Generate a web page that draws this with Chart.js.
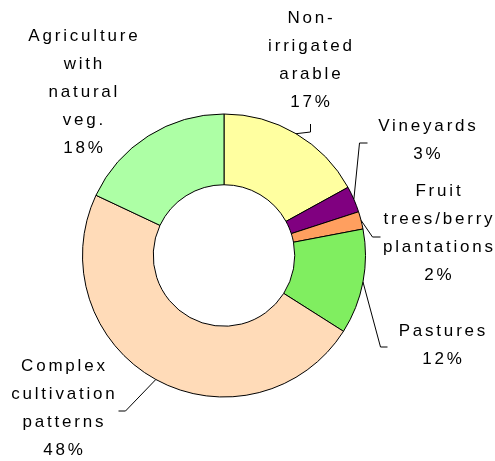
<!DOCTYPE html>
<html>
<head>
<meta charset="utf-8">
<script src="https://cdn.jsdelivr.net/npm/chart.js@4/dist/chart.umd.min.js"></script>
<style>
  html, body { margin: 0; padding: 0; background: #fff; }
  #wrap { width: 495px; height: 461px; position: relative; }
</style>
</head>
<body>
<div id="wrap"><canvas id="pieChart"></canvas></div>
<script>
// DATA

const categories = [
  ["Non-", "irrigated", "arable"],
  ["Vineyards"],
  ["Fruit", "trees/berry", "plantations"],
  ["Pastures"],
  ["Complex", "cultivation", "patterns"],
  ["Agriculture", "with", "natural", "veg."]
];
const shares = [17, 3, 2, 12, 48, 18];
const sliceColors = ["#ffffa0", "#800080", "#ff9f5f", "#80ee60", "#ffdbb8", "#adffa5"];

// label placement, relative to the pie centre (text x, first line y, leader elbow, leader end)
const labelLayout = [
  { dx: 86,   dy: -237, elbow: [86, -124],  end: [86, -132] },
  { dx: 203,  dy: -129, elbow: [135, -113], end: [143, -113] },
  { dx: 214,  dy: -64,  elbow: [148, -19],  end: [156, -19] },
  { dx: 218,  dy: 76,   elbow: [156, 91],   end: [163, 91] },
  { dx: -161, dy: 111,  elbow: [-99, 155],  end: [-106, 155] },
  { dx: -141, dy: -219, elbow: null,        end: null }
];

const LINE_H = 28;
const SPACING = 2.8;

// LABELS + LEADER LINES

const labelPlugin = {
  id: "sliceLabels",
  afterDatasetsDraw(chart) {
    const ctx = chart.ctx;
    const arcs = chart.getDatasetMeta(0).data;
    ctx.save();
    ctx.font = "17px 'Liberation Sans', Arial, sans-serif";
    ctx.letterSpacing = SPACING + "px";
    ctx.fillStyle = "#000";
    ctx.strokeStyle = "#000";
    ctx.lineWidth = 1;
    ctx.textAlign = "center";
    ctx.textBaseline = "middle";

    arcs.forEach((arc, i) => {
      const cx = arc.x, cy = arc.y;
      const lay = labelLayout[i];
      const lines = categories[i].concat([shares[i] + "%"]);
      lines.forEach((t, k) => {
        // trailing letter spacing shifts centred text left, push it back
        ctx.fillText(t, cx + lay.dx + SPACING / 2, cy + lay.dy + k * LINE_H);
      });

      if (lay.elbow) {
        const mid = (arc.startAngle + arc.endAngle) / 2;
        const sx = cx + Math.cos(mid) * arc.outerRadius;
        const sy = cy + Math.sin(mid) * arc.outerRadius;
        ctx.beginPath();
        ctx.moveTo(sx, sy);
        ctx.lineTo(cx + lay.elbow[0] + 0.5, cy + lay.elbow[1] + 0.5);
        ctx.lineTo(cx + lay.end[0] + 0.5, cy + lay.end[1] + 0.5);
        ctx.stroke();
      }
    });
    ctx.restore();
  }
};

// CHART

const pieCtx = document.getElementById("pieChart");

new Chart(pieCtx, {
  type: "doughnut",
  data: {
    labels: categories.map(c => c.join(" ")),
    datasets: [{
      data: shares,
      backgroundColor: sliceColors,
      borderColor: "#000",
      borderWidth: 1
    }]
  },
  options: {
    responsive: true,
    maintainAspectRatio: false,
    animation: false,
    cutout: "50%",
    layout: {
      padding: { left: 82, right: 129, top: 113, bottom: 63 }
    },
    plugins: {
      legend: { display: false },
      tooltip: { enabled: false }
    }
  },
  plugins: [labelPlugin]
});
</script>
</body>
</html>
